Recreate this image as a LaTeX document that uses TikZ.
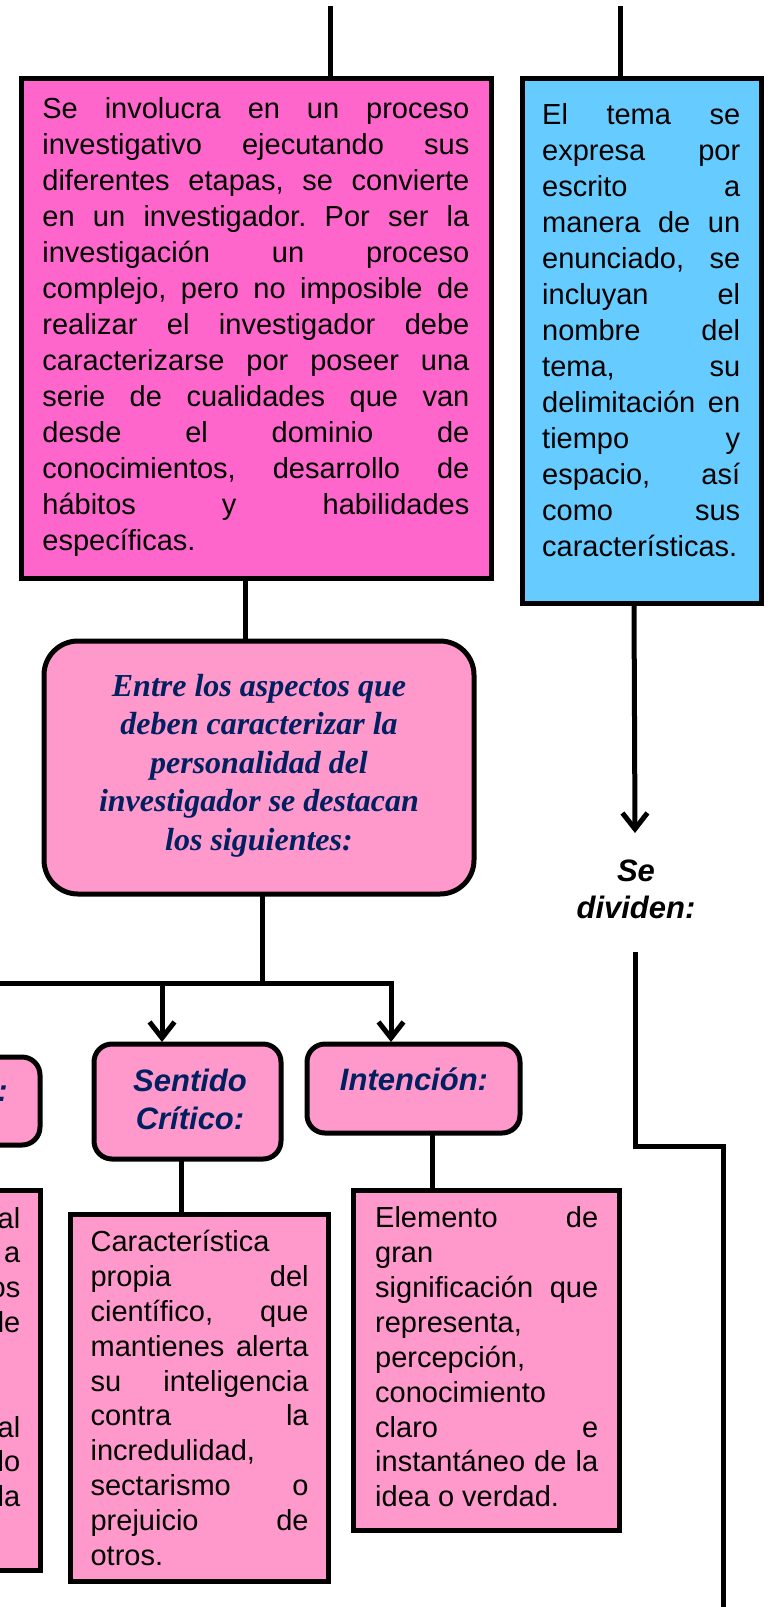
\documentclass[tikz,border=0pt]{standalone}
\usepackage{fontspec}
\setmainfont{Liberation Sans}
\newfontfamily\entrefont{Liberation Serif}
\usetikzlibrary{arrows.meta}
\definecolor{pinkA}{RGB}{255,102,204}
\definecolor{pinkL}{RGB}{255,153,204}
\definecolor{blueB}{RGB}{102,204,255}
\definecolor{navyT}{RGB}{0,32,96}
\hyphenpenalty=10000
\exhyphenpenalty=10000
\tolerance=10000
\hbadness=10000
\frenchspacing
\begin{document}
\begin{tikzpicture}[x=1pt,y=-1pt,line join=miter,
  sqbox/.style={draw=black,line width=5pt,inner sep=0pt,outer sep=0pt},
  rbox/.style={sqbox,rounded corners=18pt},
  conn/.style={draw=black,line width=5pt},
  arr/.style={conn,-{Straight Barb[length=16pt,width=25pt]}},
  body/.style={font=\fontsize{29}{36}\selectfont,align=justify,inner sep=0pt,anchor=north west,
    execute at begin node={\noindent\strut}},
  bodyb/.style={body,font=\fontsize{29}{34.85}\selectfont},
  frag/.style={font=\fontsize{29}{34.85}\selectfont,inner sep=0pt,anchor=base east},
  head/.style={font=\bfseries\itshape\fontsize{31}{38}\selectfont,text=navyT,align=center,inner sep=0pt,anchor=north},
  entre/.style={font=\entrefont\bfseries\itshape\fontsize{32}{38.5}\selectfont,text=navyT,align=center,inner sep=0pt,anchor=north}
]
\useasboundingbox (0,0) rectangle (779,1607);

% boxes
\node[sqbox,fill=pinkA,minimum width=470pt,minimum height=500pt] (A) at (256,328) {};
\node[sqbox,fill=blueB,minimum width=239pt,minimum height=525pt] (B) at (641.5,340.5) {};
\node[rbox,rounded corners=34pt,fill=pinkL,minimum width=430pt,minimum height=253pt] (E) at (259,767.5) {};
\node[rbox,fill=pinkL,minimum width=187pt,minimum height=115pt] (S) at (187.5,1101.5) {};
\node[rbox,fill=pinkL,minimum width=213pt,minimum height=89pt] (I) at (413.5,1088.5) {};
\node[rbox,fill=pinkL,minimum width=100pt,minimum height=88pt] (L) at (-10,1101) {};
\node[sqbox,fill=pinkL,minimum width=258pt,minimum height=367pt] (C) at (199,1397.5) {};
\node[sqbox,fill=pinkL,minimum width=266pt,minimum height=340pt] (D) at (486,1360) {};
\node[sqbox,fill=pinkL,minimum width=100pt,minimum height=380pt] (LB) at (-10,1380) {};

% connectors
\coordinate (t1) at (330,6);
\coordinate (t2) at (620,6);
\coordinate (xa) at (245,0);
\coordinate (xb) at (634,0);
\coordinate (tipSD) at (635,833);
\coordinate (sd1) at (635,952);
\coordinate (crn) at (0,1146);
\coordinate (sd2) at (723,1620);
\coordinate (xe) at (262,0);
\coordinate (busL) at (-10,983);
\coordinate (busR) at (391,983);
\coordinate (xs) at (162,0);
\coordinate (xc) at (181,0);
\coordinate (xd) at (432,0);

\draw[conn] (t1) -- (t1 |- A.north);
\draw[conn] (t2) -- (t2 |- B.north);
\draw[conn] (xa |- A.south) -- (xa |- E.north);
\draw[arr] (xb |- B.south) -- (tipSD);
\draw[conn] (sd1) -- (sd1 |- crn) -| (sd2);
\draw[conn] (xe |- E.south) -- (xe |- busL);
\draw[arr] (busL) -- (busR) -- ([yshift=2pt]busR |- I.north);
\draw[arr] (xs |- busL) -- ([yshift=2pt]xs |- S.north);
\draw[conn] (xc |- S.south) -- (xc |- C.north);
\draw[conn] (xd |- I.south) -- (xd |- D.north);

% texts
\node[body,text width=427pt] (tA) at (42.2,92.8) {Se involucra en un proceso\linebreak
investigativo ejecutando sus\linebreak
diferentes etapas, se convierte\linebreak
en un investigador. Por ser la\linebreak
investigación un proceso\linebreak
complejo, pero no imposible de\linebreak
realizar el investigador debe\linebreak
caracterizarse por poseer una\linebreak
serie de cualidades que van\linebreak
desde el dominio de\linebreak
conocimientos, desarrollo de\linebreak
hábitos y habilidades\linebreak
específicas.};

\node[body,text width=198pt] (tB) at (542,99.4) {El tema se\linebreak
expresa por\linebreak
escrito a\linebreak
manera de un\linebreak
enunciado, se\linebreak
incluyan el\linebreak
nombre del\linebreak
tema, su\linebreak
delimitación en\linebreak
tiempo y\linebreak
espacio, así\linebreak
como sus\linebreak
características.};

\node[entre] (tE) at (259,669) {\strut Entre los aspectos que\\deben caracterizar la\\personalidad del\\investigador se destacan\\los siguientes:};

\node[head,text=black,font=\bfseries\itshape\fontsize{31}{37}\selectfont] (sd) at (636,855) {\strut Se\\dividen:};

\node[head] (hS) at (190,1064.4) {\strut Sentido\\Crítico:};
\node[head] (hI) at (414,1063.4) {\strut Intención:};
\node[head,anchor=base east] (hL) at (8,1101) {:};

\node[bodyb,text width=218pt] (tC) at (90.4,1227) {Característica\linebreak
propia del\linebreak
científico, que\linebreak
mantienes alerta\linebreak
su inteligencia\linebreak
contra la\linebreak
incredulidad,\linebreak
sectarismo o\linebreak
prejuicio de\linebreak
otros.};

\node[bodyb,text width=223pt] (tD) at (375,1203.3) {Elemento de\linebreak
gran\linebreak
significación que\linebreak
representa,\linebreak
percepción,\linebreak
conocimiento\linebreak
claro e\linebreak
instantáneo de la\linebreak
idea o verdad.};

\foreach \w/\k in {al/0,a/1,os/2,de/3,al/6,lo/7,la/8}
  \node[frag] (f\k) at (20.5,1228+34.85*\k) {\w};
\end{tikzpicture}
\end{document}
